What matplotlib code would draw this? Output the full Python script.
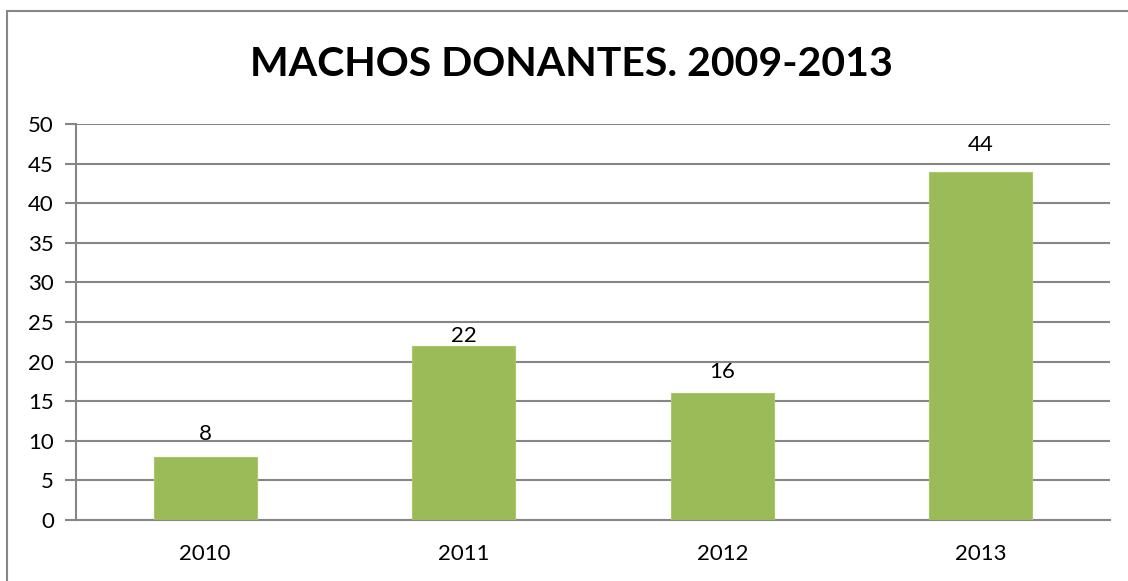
import matplotlib
matplotlib.use("Agg")
import matplotlib.pyplot as plt
from matplotlib.patches import Rectangle

years = ["2010", "2011", "2012", "2013"]
values = [8, 22, 16, 44]
yticks = [0, 5, 10, 15, 20, 25, 30, 35, 40, 45, 50]
title = "MACHOS DONANTES. 2009-2013"
label_offsets = [9, 0, 8, 12]

plt.rcParams['font.family'] = ['Lato', 'DejaVu Sans']

W, H = 1128, 581
fig = plt.figure(figsize=(W / 100, H / 100), dpi=100)
fig.patch.set_facecolor("white")

# outer chart border (extends past right and bottom)
fig.patches.append(Rectangle((7 / W, -0.1), 1.2, (H - 11) / H + 0.1,
                             transform=fig.transFigure, fill=False,
                             edgecolor="#868686", linewidth=1.5))

ax = fig.add_axes([76 / W, (H - 520) / H, (1110 - 76) / W, (520 - 124) / H])
x = list(range(len(years)))
ax.bar(x, values, width=0.4, color="#9BBB59", edgecolor="#A8C86A", linewidth=0.8, zorder=3)
ax.set_xlim(-0.5, len(years) - 0.5)
ax.set_ylim(0, 50)
ax.set_yticks(yticks)
ax.set_yticklabels([str(t) for t in yticks], fontsize=16)
ax.set_xticks(x)
ax.set_xticklabels(years, fontsize=16)
ax.grid(axis="y", color="#868686", linewidth=1.5, zorder=0)
for s in ["top", "right"]:
    ax.spines[s].set_visible(False)
for s in ["left", "bottom"]:
    ax.spines[s].set_color("#868686")
    ax.spines[s].set_linewidth(1.5)
ax.tick_params(axis="y", length=8, width=1.5, color="#868686", pad=8)
ax.tick_params(axis="x", length=0, pad=17)

for xi, v, off in zip(x, values, label_offsets):
    ax.annotate(str(v), (xi, v), xytext=(0, off), textcoords="offset points",
                ha="center", va="bottom", fontsize=16)

fig.text(571 / W, (H - 64) / H, title, ha="center", va="center",
         fontsize=29.5, fontweight="bold")

fig.savefig("out.png", dpi=100)
